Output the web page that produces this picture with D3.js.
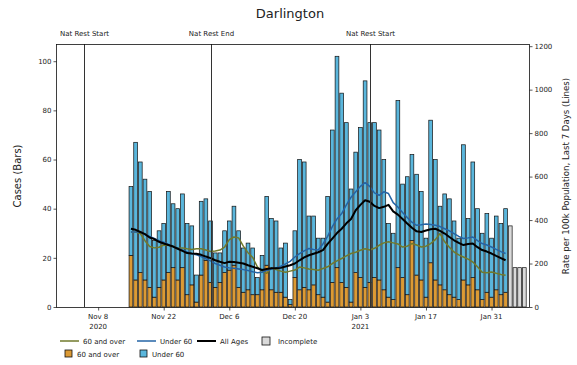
<!DOCTYPE html>
<html><head><meta charset="utf-8">
<script src="https://cdn.jsdelivr.net/npm/d3@7"></script>
<style>body{margin:0;background:#fff}svg{display:block;font-family:"DejaVu Sans",sans-serif}</style>
</head><body><svg id="c" width="577" height="365"></svg>
<script>
// ---------- data ----------
const firstDay = "2020-11-15";           // first complete day (bars & lines)
const over60 = [
  21,11,14,11,8,4,8,11,14,16,11,16,5,9,2,13,            // Nov 15-30
  19,10,8,10,14,15,17,8,6,7,5,5,7,17,7,6,6,4,1,12,7,8,7,9,5,4,2,10,16,10,8, // Dec
  2,14,12,8,10,12,11,7,4,3,16,12,5,27,13,11,4,18,11,9,7,5,4,3,11,9,12,7,3,6,4, // Jan
  7,5,6                                                    // Feb 1-3
];
const under60 = [
  28,56,45,41,39,23,23,23,33,26,29,30,29,24,11,30,
  25,25,14,12,17,20,24,23,18,19,19,7,14,28,29,29,18,22,2,19,53,51,30,28,23,24,43,62,86,77,67,
  46,49,61,84,65,63,61,53,30,27,68,38,48,35,41,36,24,58,49,32,39,39,31,25,55,27,47,33,27,32,24,
  30,29,34
];
const incompleteFirst = "2021-02-04";
const incomplete = [33,16,16,16];

const rateAll = [
  360,355,345,335,320,312,300,292,285,278,268,258,248,246,245,240,
  232,225,215,208,202,208,207,204,200,192,185,178,170,175,178,178,180,186,192,200,215,228,238,245,252,262,290,315,340,360,385,
  405,445,470,491,484,465,455,461,470,440,425,405,384,365,348,345,352,358,360,350,338,322,307,295,285,290,292,275,262,255,246,
  235,225,215
];
const rateU60 = [
  345,345,345,335,325,315,305,298,288,278,270,262,253,245,240,232,
  222,212,200,192,184,180,178,175,172,168,162,158,160,168,175,180,188,198,210,230,246,258,269,265,262,290,325,370,405,430,470,
  505,530,555,572,555,525,514,530,522,480,460,435,412,390,376,378,382,380,376,370,360,350,338,325,315,318,322,305,292,285,276,
  265,255,246
];
const rate60 = [
  345,345,338,305,278,272,275,285,284,280,270,272,268,265,268,268,
  262,255,258,262,276,310,322,318,280,250,228,185,165,155,180,172,165,160,165,170,184,180,175,172,169,177,185,200,212,223,235,
  246,252,261,268,262,270,284,295,300,295,290,276,280,292,285,276,280,292,310,338,300,275,253,240,230,220,207,185,160,158,161,
  155,150,146
];

const restrictions = [
  {date:"2020-11-05", label:"Nat Rest Start"},
  {date:"2020-12-02", label:"Nat Rest End"},
  {date:"2021-01-05", label:"Nat Rest Start"}
];
const xTicks = ["2020-11-08","2020-11-22","2020-12-06","2020-12-20","2021-01-03","2021-01-17","2021-01-31"];
const xTickLabels = [["Nov 8","2020"],["Nov 22"],["Dec 6"],["Dec 20"],["Jan 3","2021"],["Jan 17"],["Jan 31"]];
const leftTicks = [0,20,40,60,80,100];
const rightTicks = [0,200,400,600,800,1000,1200];

// ---------- setup ----------
const parse = d3.utcParse("%Y-%m-%d");
const days = d3.utcDay.range(parse(firstDay), d3.utcDay.offset(parse(firstDay), over60.length));
const incDays = d3.utcDay.range(parse(incompleteFirst), d3.utcDay.offset(parse(incompleteFirst), incomplete.length));
const rows = days.map((d,i)=>({date:d, over:over60[i], under:under60[i]}));

const L=56, R=529, T=44, B=307;
const x = d3.scaleUtc().domain([parse("2020-10-30"), parse("2021-02-08")]).range([L,R]);
const yL = d3.scaleLinear().domain([0,107]).range([B,T]);
const yR = d3.scaleLinear().domain([0,1210]).range([B,T]);
const dayW = x(parse("2020-11-02")) - x(parse("2020-11-01"));
const bw = dayW*0.8;

const C = {over:"#dc9a34", under:"#5ab6dc", line60:"#717a2c", lineU:"#2464a6", all:"#000", inc:"#dadada"};
const svg = d3.select("#c");
const txt = "#222";

// title
svg.append("text").attr("x",290).attr("y",18).attr("text-anchor","middle")
  .attr("font-size",13).attr("fill",txt).text("Darlington");

// bars (stacked)
const stack = d3.stack().keys(["over","under"])(rows);
const g = svg.append("g");
stack.forEach(layer=>{
  g.selectAll(null).data(layer).join("rect")
    .attr("x",d=>x(d.data.date)-bw/2).attr("width",bw)
    .attr("y",d=>yL(d[1])).attr("height",d=>yL(d[0])-yL(d[1]))
    .attr("fill",layer.key==="over"?C.over:C.under)
    .attr("stroke","#111").attr("stroke-width",0.7);
});
g.selectAll(null).data(incDays).join("rect")
  .attr("x",d=>x(d)-bw/2).attr("width",bw)
  .attr("y",(d,i)=>yL(incomplete[i])).attr("height",(d,i)=>yL(0)-yL(incomplete[i]))
  .attr("fill",C.inc).attr("stroke","#111").attr("stroke-width",0.7);

// lines
function drawLine(vals,color,w){
  svg.append("path").datum(vals)
    .attr("fill","none").attr("stroke",color).attr("stroke-width",w).attr("stroke-linejoin","round")
    .attr("d",d3.line().x((v,i)=>x(days[i])).y(v=>yR(v)));
}
drawLine(rate60,C.line60,1.5);
drawLine(rateU60,C.lineU,1.5);
drawLine(rateAll,C.all,2);

// restriction lines
restrictions.forEach(r=>{
  const xx = Math.round(x(parse(r.date)))+0.5;
  svg.append("line").attr("x1",xx).attr("x2",xx).attr("y1",T).attr("y2",B)
    .attr("stroke","#333").attr("stroke-width",1);
  svg.append("text").attr("x",xx).attr("y",36).attr("text-anchor","middle")
    .attr("font-size",7).attr("fill",txt).text(r.label);
});

// frame
svg.append("rect").attr("x",L+0.5).attr("y",T+0.5).attr("width",R-L).attr("height",B-T)
  .attr("fill","none").attr("stroke","#111").attr("stroke-width",0.8);

// axes
const axL = svg.append("g").attr("transform",`translate(${L+0.5},0)`)
  .call(d3.axisLeft(yL).tickValues(leftTicks).tickSize(3).tickPadding(2).tickFormat(d3.format("d")));
const axR = svg.append("g").attr("transform",`translate(${R+0.5},0)`)
  .call(d3.axisRight(yR).tickValues(rightTicks).tickSize(3).tickPadding(2).tickFormat(d3.format("d")));
const axB = svg.append("g").attr("transform",`translate(0,${B+0.5})`)
  .call(d3.axisBottom(x).tickValues(xTicks.map(parse)).tickSize(3).tickFormat(""));
[axL,axR,axB].forEach(a=>{
  a.select(".domain").remove();
  a.selectAll("line").attr("stroke","#111").attr("stroke-width",0.7);
  a.selectAll("text").attr("font-size",7).attr("fill",txt).attr("font-family","DejaVu Sans");
});
xTicks.forEach((t,i)=>{
  const tx = svg.append("text").attr("x",x(parse(t))).attr("y",319).attr("text-anchor","middle")
    .attr("font-size",7).attr("fill",txt);
  xTickLabels[i].forEach((s,j)=>tx.append("tspan").attr("x",x(parse(t))).attr("dy",j?10:0).text(s));
});

// axis titles
svg.append("text").attr("transform","translate(21,176) rotate(-90)").attr("text-anchor","middle")
  .attr("font-size",10).attr("fill",txt).text("Cases (Bars)");
svg.append("text").attr("transform","translate(569,176) rotate(-90)").attr("text-anchor","middle")
  .attr("font-size",8.6).attr("fill",txt).text("Rate per 100k Population, Last 7 Days (Lines)");

// legend
const lg = svg.append("g").attr("font-size",7).attr("fill",txt);
const row1=341, row2=354;
const lineItems = [
  {x:60, color:C.line60, w:1.5, label:"60 and over"},
  {x:137, color:C.lineU, w:1.5, label:"Under 60"},
  {x:197, color:C.all, w:2, label:"All Ages"}
];
lineItems.forEach(it=>{
  lg.append("line").attr("x1",it.x).attr("x2",it.x+19).attr("y1",row1).attr("y2",row1)
    .attr("stroke",it.color).attr("stroke-width",it.w);
  lg.append("text").attr("x",it.x+23).attr("y",row1+2.5).text(it.label);
});
lg.append("rect").attr("x",262).attr("y",row1-4).attr("width",8).attr("height",8)
  .attr("fill",C.inc).attr("stroke","#111").attr("stroke-width",0.8);
lg.append("text").attr("x",278).attr("y",row1+2.5).text("Incomplete");
[{x:65,color:C.over,label:"60 and over"},{x:140,color:C.under,label:"Under 60"}].forEach(it=>{
  lg.append("rect").attr("x",it.x).attr("y",row2-4).attr("width",7).attr("height",7)
    .attr("fill",it.color).attr("stroke","#111").attr("stroke-width",0.8);
  lg.append("text").attr("x",it.x+12).attr("y",row2+2.5).text(it.label);
});
</script>
</body></html>
